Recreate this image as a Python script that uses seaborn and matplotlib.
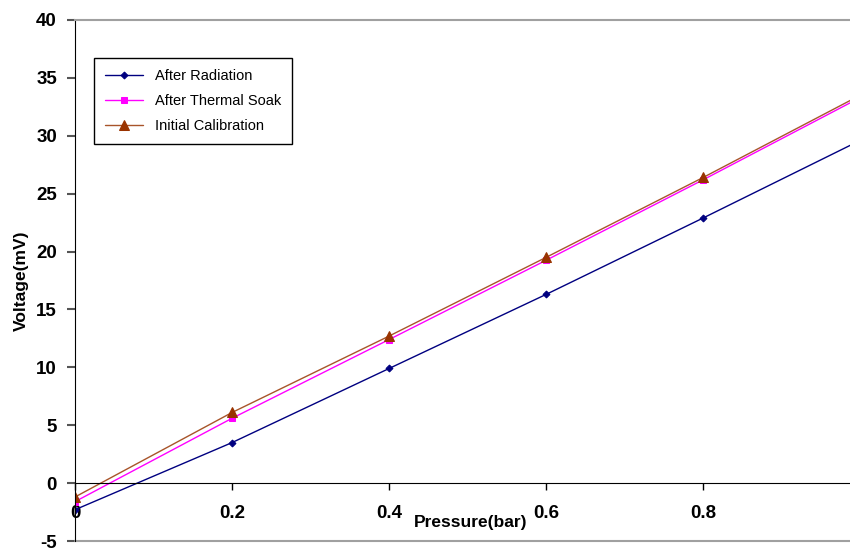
import matplotlib
matplotlib.use('Agg')
import numpy as np
import pandas as pd
import matplotlib.pyplot as plt
import seaborn as sns

# pressure (bar)
pressure = [0.0, 0.2, 0.4, 0.6, 0.8, 1.0]
# voltage (mV)
after_radiation = [-2.3, 3.5, 9.9, 16.3, 22.9, 29.6]
after_thermal_soak = [-1.6, 5.6, 12.4, 19.25, 26.2, 33.3]
initial_calibration = [-1.2, 6.1, 12.7, 19.5, 26.4, 33.5]

series_names = ['After Radiation', 'After Thermal Soak', 'Initial Calibration']
x_ticks = [0, 0.2, 0.4, 0.6, 0.8]
x_tick_labels = ['0', '0.2', '0.4', '0.6', '0.8']
y_ticks = [-5, 0, 5, 10, 15, 20, 25, 30, 35, 40]

sns.set_style('white')
plt.rcParams['font.family'] = ['Liberation Sans', 'DejaVu Sans']
plt.rcParams['text.color'] = 'black'
plt.rcParams['axes.labelcolor'] = 'black'
plt.rcParams['xtick.color'] = 'black'
plt.rcParams['ytick.color'] = 'black'

df = pd.DataFrame({
    'Pressure': pressure * 3,
    'Voltage': after_radiation + after_thermal_soak + initial_calibration,
    'Series': [s for s in series_names for _ in pressure],
})

fig = plt.figure(figsize=(8.5, 5.5), dpi=100)
ax = fig.add_axes([75 / 850, 9 / 550, 775 / 850, 521 / 550])

styles = {
    'After Radiation': dict(color='#000080', marker='D', ms=3.5, mfc='#000080', mec='#000080'),
    'After Thermal Soak': dict(color='#FF00FF', marker='s', ms=4.5, mfc='#FF00FF', mec='#FF00FF'),
    'Initial Calibration': dict(color='#A8542A', marker='^', ms=6.5, mfc='#993300', mec='#993300'),
}
for name in series_names:
    st = styles[name]
    sns.lineplot(data=df[df['Series'] == name], x='Pressure', y='Voltage', ax=ax,
                 color=st['color'], marker=st['marker'], markersize=st['ms'],
                 markerfacecolor=st['mfc'], markeredgecolor=st['mec'],
                 linewidth=1.0, label=name, clip_on=True)

ax.set_xlim(0, 0.987)
ax.set_ylim(-5, 40)

# axes look like the old spreadsheet chart
ax.spines['bottom'].set_position(('data', 0))
ax.spines['bottom'].set_color('black')
ax.spines['left'].set_color('black')
ax.spines['right'].set_visible(False)
ax.spines['top'].set_color('#A0A0A0')
ax.spines['top'].set_linewidth(1.5)
ax.axhline(-5, color='#A0A0A0', lw=1.5, clip_on=False)

ax.set_xticks(x_ticks)
ax.set_xticklabels(x_tick_labels, fontsize=13.5, fontweight='bold')
ax.set_yticks(y_ticks)
ax.set_yticklabels([str(v) for v in y_ticks], fontsize=13.5, fontweight='bold')
ax.tick_params(axis='x', direction='out', length=5, width=1, color='black', pad=11, bottom=True)
ax.tick_params(axis='y', direction='out', length=6, width=1.5, color='#555555', pad=7, left=True)

ax.set_xlabel('Pressure(bar)', fontsize=12.5, fontweight='bold')
ax.xaxis.set_label_coords(0.51, 0.05)
ax.set_ylabel('Voltage(mV)', fontsize=12.5, fontweight='bold')
ax.yaxis.set_label_coords(-0.06, 0.5)

leg = ax.legend(loc='upper left', bbox_to_anchor=(0.0245, 0.927), fontsize=10.5,
                frameon=True, fancybox=False, edgecolor='black', framealpha=1,
                handlelength=2.6, borderpad=0.75, labelspacing=0.75, borderaxespad=0)
leg.get_frame().set_linewidth(1.0)

plt.savefig('out.png', dpi=100)
